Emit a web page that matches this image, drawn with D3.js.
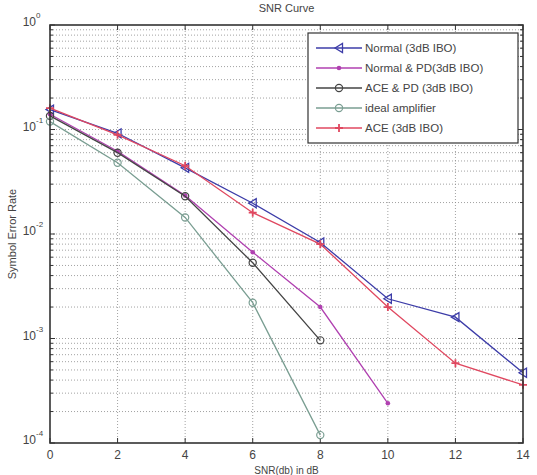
<!DOCTYPE html>
<html>
<head>
<meta charset="utf-8">
<style>
body{ margin:0; background:#fff; }
text{ font-family: "Liberation Sans", Arial, sans-serif; fill:#444; }
.grid{ stroke:#8a8a8a; stroke-width:0.8; stroke-dasharray:1,2; }
</style>
<script src="https://d3js.org/d3.v7.min.js"></script>
</head>
<body>
<script>
var w = 537;
var h = 475;
var margin = {left: 50, right: 14, top: 25, bottom: 32};

var snr = [0, 2, 4, 6, 8, 10, 12, 14];
var normal = [0.155, 0.092, 0.043, 0.0197, 0.0083, 0.0024, 0.0016, 0.00047];
var normalPD = [0.14, 0.062, 0.0233, 0.0067, 0.0020, 0.00024];
var acePD = [0.135, 0.060, 0.023, 0.0053, 0.00096];
var ideal = [0.119, 0.048, 0.0144, 0.0022, 0.000119];
var ace = [0.16, 0.089, 0.045, 0.016, 0.0080, 0.0020, 0.00058, 0.00036];

var names = ["Normal (3dB IBO)", "Normal & PD(3dB IBO)", "ACE & PD (3dB IBO)", "ideal amplifier", "ACE (3dB IBO)"];
var colors = ["#3c3ca8", "#b040b0", "#444444", "#7a9e92", "#e04860"];
var markers = ["tri", "dot", "circle", "circle", "plus"];
var values = [normal, normalPD, acePD, ideal, ace];

var xTicks = [0, 2, 4, 6, 8, 10, 12, 14];
var yTicks = [1, 0.1, 0.01, 0.001, 0.0001];

var svg = d3.select("body").append("svg")
    .attr("width", w)
    .attr("height", h);

var xScale = d3.scaleLinear().domain([0, 14]).range([margin.left, w - margin.right]);
var yScale = d3.scaleLog().domain([1e-4, 1]).range([h - margin.bottom, margin.top]);

var x0 = xScale.range()[0], x1 = xScale.range()[1];
var y0 = yScale.range()[0], y1 = yScale.range()[1];

// minor log ticks for the grid
var minor = [];
for (var e = -4; e < 0; e++) {
    for (var m = 1; m < 10; m++) minor.push(m * Math.pow(10, e));
}
minor.push(1);

svg.selectAll(".hgrid").data(minor.filter(function(d){ return d > 1e-4 && d < 1; }))
   .enter().append("line")
   .attr("class", "grid")
   .attr("x1", x0).attr("x2", x1)
   .attr("y1", function(d){ return yScale(d); })
   .attr("y2", function(d){ return yScale(d); });

svg.selectAll(".vgrid").data(xTicks.slice(1, -1))
   .enter().append("line")
   .attr("class", "grid")
   .attr("y1", y0).attr("y2", y1)
   .attr("x1", function(d){ return xScale(d); })
   .attr("x2", function(d){ return xScale(d); });

// inner ticks
var tk = svg.append("g").attr("stroke", "#333").attr("stroke-width", 1);
minor.forEach(function(d){
    var len = (Math.abs(Math.log10(d) - Math.round(Math.log10(d))) < 1e-9) ? 5 : 3;
    tk.append("line").attr("x1", x0).attr("x2", x0 + len).attr("y1", yScale(d)).attr("y2", yScale(d));
    tk.append("line").attr("x1", x1).attr("x2", x1 - len).attr("y1", yScale(d)).attr("y2", yScale(d));
});
xTicks.forEach(function(d){
    tk.append("line").attr("y1", y0).attr("y2", y0 - 5).attr("x1", xScale(d)).attr("x2", xScale(d));
    tk.append("line").attr("y1", y1).attr("y2", y1 + 5).attr("x1", xScale(d)).attr("x2", xScale(d));
});

// marker drawing
function drawMarker(g, type, color, cx, cy) {
    if (type === "tri") {
        g.append("path")
         .attr("d", "M" + (cx - 4) + "," + cy + "L" + (cx + 3.5) + "," + (cy - 4.5) + "L" + (cx + 3.5) + "," + (cy + 4.5) + "Z")
         .attr("fill", "none").attr("stroke", color).attr("stroke-width", 1.3);
    } else if (type === "dot") {
        g.append("circle").attr("cx", cx).attr("cy", cy).attr("r", 2.3).attr("fill", color);
    } else if (type === "circle") {
        g.append("circle").attr("cx", cx).attr("cy", cy).attr("r", 3.6)
         .attr("fill", "none").attr("stroke", color).attr("stroke-width", 1.2);
    } else if (type === "plus") {
        g.append("path")
         .attr("d", "M" + (cx - 4) + "," + cy + "H" + (cx + 4) + "M" + cx + "," + (cy - 4) + "V" + (cy + 4))
         .attr("stroke", color).attr("stroke-width", 1.8);
    }
}

var line = d3.line()
    .x(function(d, i){ return xScale(snr[i]); })
    .y(function(d){ return yScale(d); });

var plot = svg.append("g");
values.forEach(function(vals, k){
    plot.append("path")
        .datum(vals)
        .attr("d", line)
        .attr("fill", "none")
        .attr("stroke", colors[k])
        .attr("stroke-width", 1.3);
    vals.forEach(function(v, i){
        drawMarker(plot, markers[k], colors[k], xScale(snr[i]), yScale(v));
    });
});

// frame
svg.append("rect")
   .attr("x", x0).attr("y", y1)
   .attr("width", x1 - x0).attr("height", y0 - y1)
   .attr("fill", "none").attr("stroke", "#333").attr("stroke-width", 1.6);

// x tick labels
svg.selectAll(".xl").data(xTicks).enter().append("text")
   .attr("x", function(d){ return xScale(d); })
   .attr("y", y0 + 16)
   .attr("text-anchor", "middle")
   .style("font-size", "12px")
   .text(function(d){ return d; });

// y tick labels
yTicks.forEach(function(d){
    var yy = yScale(d);
    var ex = Math.round(Math.log10(d));
    svg.append("text")
       .attr("x", x0 - 14).attr("y", yy + 1)
       .attr("text-anchor", "end")
       .style("font-size", "12px")
       .text("10");
    svg.append("text")
       .attr("x", x0 - 14).attr("y", yy - 7)
       .attr("text-anchor", "start")
       .style("font-size", "8px")
       .text(ex === 0 ? "0" : "-" + Math.abs(ex));
});

// title and axis labels
svg.append("text")
   .attr("x", (x0 + x1) / 2).attr("y", 12)
   .attr("text-anchor", "middle")
   .style("font-size", "11px")
   .text("SNR Curve");

svg.append("text")
   .attr("transform", "translate(16," + ((y0 + y1) / 2) + ") rotate(-90)")
   .attr("text-anchor", "middle")
   .style("font-size", "11px")
   .text("Symbol Error Rate");

svg.append("text")
   .attr("x", (x0 + x1) / 2).attr("y", h - 1)
   .attr("text-anchor", "middle")
   .style("font-size", "10px")
   .text("SNR(db) in dB");

// legend
var lg = svg.append("g");
var lx = 308, ly = 33, lw = 210, lh = 110;
lg.append("rect")
  .attr("x", lx).attr("y", ly).attr("width", lw).attr("height", lh)
  .attr("fill", "#fff").attr("stroke", "#333").attr("stroke-width", 1.2);
names.forEach(function(n, k){
    var yy = ly + 15 + k * 20;
    lg.append("line")
      .attr("x1", lx + 8).attr("x2", lx + 54)
      .attr("y1", yy).attr("y2", yy)
      .attr("stroke", colors[k]).attr("stroke-width", 1.3);
    drawMarker(lg, markers[k], colors[k], lx + 31, yy);
    lg.append("text")
      .attr("x", lx + 57).attr("y", yy + 4)
      .style("font-size", "11.5px")
      .text(n);
});
</script>
</body>
</html>
